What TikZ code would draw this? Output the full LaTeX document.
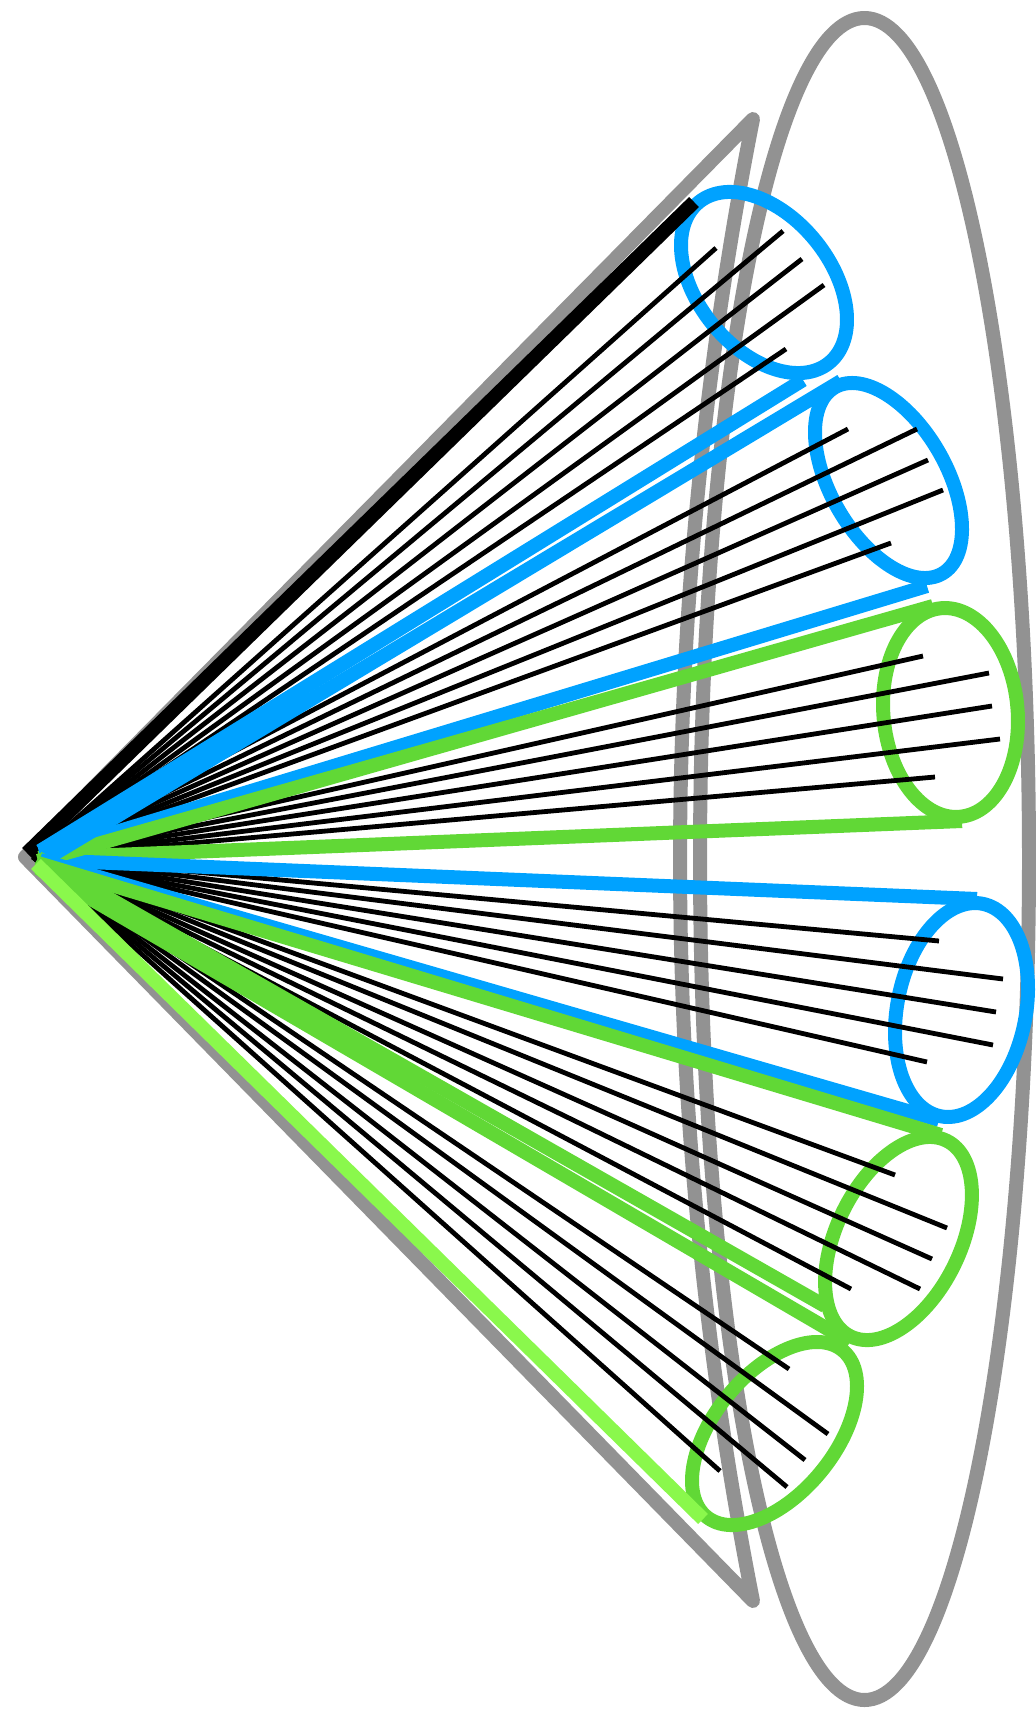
\documentclass[tikz,border=0pt]{standalone}
\definecolor{cblue}{RGB}{0,162,255}
\definecolor{cgreen}{RGB}{97,216,54}
\definecolor{clime}{RGB}{138,248,76}
\definecolor{cgrey}{RGB}{146,146,146}
\begin{document}
\begin{tikzpicture}[x=0.5pt,y=-0.5pt,
  greyline/.style={draw=cgrey,line width=7pt,line join=round},
  tubering/.style={line width=7pt},
  fiber/.style={draw=black,line width=2.4pt},
  edgeline/.style={line width=7pt}]
\useasboundingbox (0,0) rectangle (1036,1713);
% reference points
\coordinate (apex) at (25,857);
\coordinate (F) at (33,857);
\coordinate (ctop) at (753,119);
\coordinate (cbot) at (753,1601);
% grey outline shapes
\draw[greyline] (864.5,859) ellipse [x radius=164.5, y radius=841];
\draw[greyline] (ctop) -- (apex) -- (cbot) .. controls (655.7,1107) and (655.7,612.7) .. (ctop) -- cycle;
% ring outlines
\foreach \cx/\cy/\ang/\ra/\rb/\col in {
  764/282.5/-51/103.4/66.3/cblue,
  888.5/480.5/-60/107.5/57.9/cblue,
  950.5/712.5/-84.9/104.7/67.1/cgreen,
  961.5/1010/78.8/108.3/64.3/cblue,
  898.5/1238.5/63.8/109/61.8/cgreen,
  774.5/1433.5/50.7/107.5/60.2/cgreen}
  \draw[tubering,draw=\col,rotate around={\ang:(\cx,\cy)}] (\cx,\cy) ellipse [x radius=\ra, y radius=\rb];
% fibers
\foreach \ex/\ey in {
  716/248, 783/231, 802/259, 824/285, 786/349,
  848/429, 917/429, 928/460, 943/490, 891/543,
  923/656, 989/673, 992/706, 1000/739, 935/777,
  939/941, 1003/979, 996/1012, 993/1045, 927/1062,
  895/1175, 947/1228, 932/1259, 920/1289, 851/1289,
  789/1369, 828/1434, 805/1460, 787/1487, 720/1471}
  \draw[fiber] (F) -- (\ex,\ey);
% tube edges
\foreach \sx/\sy/\ex/\ey/\col in {
  27/853/694/202/black,
  38/858/962/821/cgreen,
  40/860/977/899/cblue,
  40/855/927/586/cblue,
  38/861/933/606/cgreen,
  44/860/841/381/cblue,
  40/851/803/380/cblue,
  38/868/850/1342/cgreen,
  38/858/825/1306/cgreen,
  40/860/939/1120/cblue,
  38/863/941/1135/cgreen,
  36/864/703/1519/clime}
  \draw[edgeline,draw=\col] (\sx,\sy) -- (\ex,\ey);
\end{tikzpicture}
\end{document}
